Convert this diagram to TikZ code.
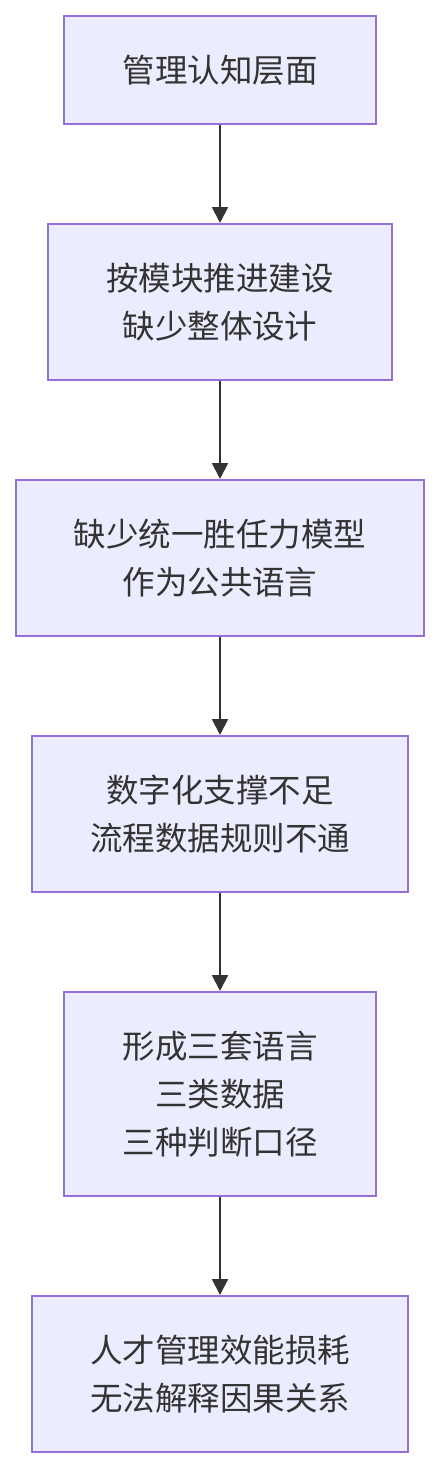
\documentclass[tikz,border=0pt]{standalone}
\usepackage{fontspec}
\newfontfamily\cjk{Noto Sans CJK SC}
\usepackage{tikz}
\usetikzlibrary{arrows.meta}

\definecolor{stagefill}{HTML}{ECECFF}
\definecolor{stageline}{HTML}{9370DB}
\definecolor{ink}{HTML}{333333}

\begin{document}
\begin{tikzpicture}[
    x=1pt, y=-1pt,
    stage/.style={rectangle, draw=stageline, fill=stagefill, line width=2pt, minimum width=#1, align=center, text=ink, font=\fontsize{32.5}{48}\selectfont\cjk},
    stage/.default={312pt},
    arrow/.style={-{Triangle[length=16pt, width=16pt]}, line width=2pt, draw=ink}
]
\useasboundingbox (0,0) rectangle (440,1468);

% === STAGES ===
\node[stage=312pt, minimum height=108pt] (cognition) at (220, 70) {管理认知层面};
\node[stage=344pt, minimum height=156pt] (modules) at (220, 302) {按模块推进建设\\缺少整体设计};
\node[stage=408pt, minimum height=156pt] (model) at (220, 558) {缺少统一胜任力模型\\作为公共语言};
\node[stage=376pt, minimum height=156pt] (digital) at (220, 814) {数字化支撑不足\\流程数据规则不通};
\node[stage=312pt, minimum height=204pt] (split) at (220, 1094) {形成三套语言\\三类数据\\三种判断口径};
\node[stage=376pt, minimum height=156pt] (loss) at (220, 1374) {人才管理效能损耗\\无法解释因果关系};

% === ARROWS ===
\draw[arrow] (cognition.south) -- (modules.north);
\draw[arrow] (modules.south) -- (model.north);
\draw[arrow] (model.south) -- (digital.north);
\draw[arrow] (digital.south) -- (split.north);
\draw[arrow] (split.south) -- (loss.north);

\end{tikzpicture}
\end{document}
